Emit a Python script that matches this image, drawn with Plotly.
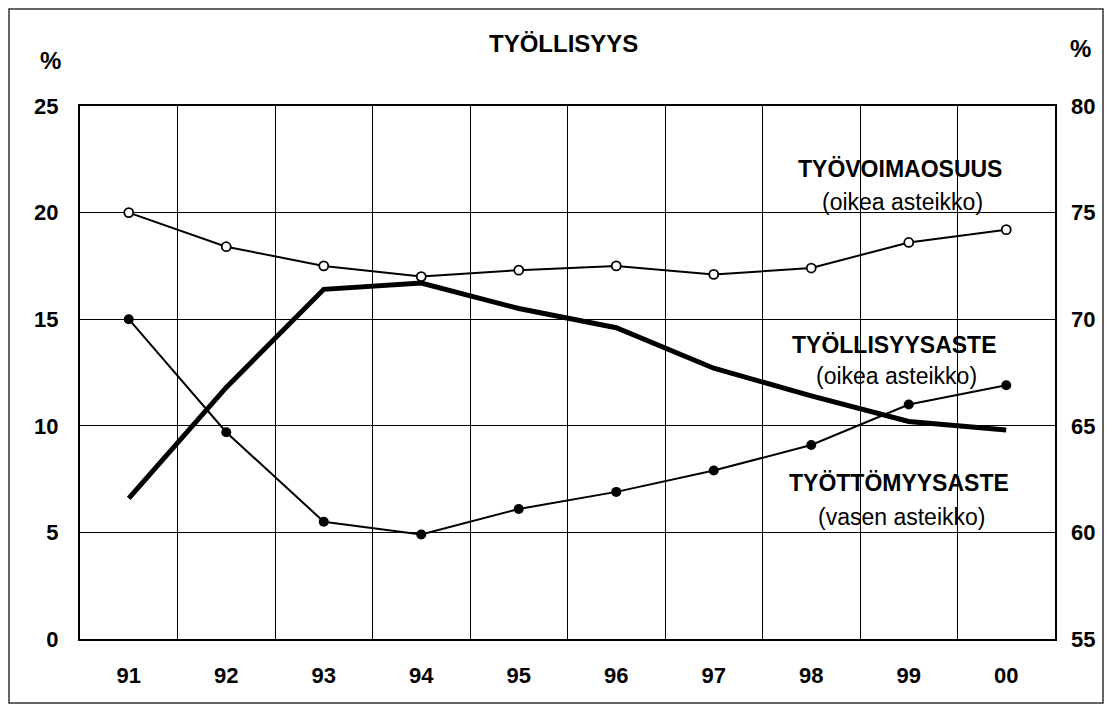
import plotly.graph_objects as go

years = ["91", "92", "93", "94", "95", "96", "97", "98", "99", "00"]
tyottomyysaste = [6.6, 11.8, 16.4, 16.7, 15.5, 14.6, 12.7, 11.4, 10.2, 9.8]   # left scale
tyollisyysaste = [70.0, 64.7, 60.5, 59.9, 61.1, 61.9, 62.9, 64.1, 66.0, 66.9]  # right scale
tyovoimaosuus = [75.0, 73.4, 72.5, 72.0, 72.3, 72.5, 72.1, 72.4, 73.6, 74.2]   # right scale
left_ticks = [0, 5, 10, 15, 20, 25]
right_ticks = [55, 60, 65, 70, 75, 80]

FONT = "Liberation Sans, Arial, sans-serif"

fig = go.Figure()
fig.add_trace(go.Scatter(x=years, y=tyovoimaosuus, yaxis="y2", mode="lines+markers",
                         line=dict(color="black", width=2),
                         marker=dict(symbol="circle", size=9, color="white",
                                     line=dict(color="black", width=1.8)),
                         showlegend=False, hoverinfo="skip"))
fig.add_trace(go.Scatter(x=years, y=tyottomyysaste, yaxis="y", mode="lines",
                         line=dict(color="black", width=5),
                         showlegend=False, hoverinfo="skip"))
fig.add_trace(go.Scatter(x=years, y=tyollisyysaste, yaxis="y2", mode="lines+markers",
                         line=dict(color="black", width=2),
                         marker=dict(symbol="circle", size=10, color="black"),
                         showlegend=False, hoverinfo="skip"))

W, H = 1096, 696
L, R, T, B = 72, 49, 98, 65
pw, ph = W - L - R, H - T - B

def px(x):
    return (x - L) / pw

def py(y):
    return (H - B - y) / ph

fig.update_layout(
    width=W, height=H,
    margin=dict(l=L, r=R, t=T, b=B, autoexpand=False),
    paper_bgcolor="white", plot_bgcolor="white",
    font=dict(family=FONT, color="black"),
    xaxis=dict(type="category", tickson="boundaries", showgrid=True, gridcolor="black",
               gridwidth=1, ticks="", showline=True, linecolor="black", linewidth=2,
               mirror=True, tickfont=dict(size=22, family=FONT, weight="bold"),
               ticklabelstandoff=16, range=[-0.5, 9.5]),
    yaxis=dict(range=[0, 25], tickvals=left_ticks, showgrid=True, gridcolor="black",
               gridwidth=1, zeroline=False, ticks="", showline=True, linecolor="black",
               linewidth=2, mirror=True, tickfont=dict(size=22, family=FONT, weight="bold"),
               ticklabelstandoff=15),
    yaxis2=dict(range=[55, 80], tickvals=right_ticks, overlaying="y", side="right",
                showgrid=False, zeroline=False, ticks="", showline=False,
                tickfont=dict(size=22, family=FONT, weight="bold"), ticklabelstandoff=15),
)

def ann(text, x, y, size, bold=False):
    fig.add_annotation(text=text, x=px(x), y=py(y), xref="paper", yref="paper",
                       xanchor="center", yanchor="middle", showarrow=False,
                       font=dict(size=size, family=FONT, color="black",
                                 weight="bold" if bold else "normal"))

ann("TYÖLLISYYS", 555, 35, 24, True)
ann("%", 42, 52, 24, True)
ann("%", 1072, 40, 24, True)
ann("TYÖVOIMAOSUUS", 892, 161, 23, True)
ann("(oikea asteikko)", 894, 194, 23)
ann("TYÖLLISYYSASTE", 886, 337, 23, True)
ann("(oikea asteikko)", 888, 368, 23)
ann("TYÖTTÖMYYSASTE", 891, 475, 23, True)
ann("(vasen asteikko)", 893, 509, 23)

fig.add_shape(type="rect", xref="paper", yref="paper",
              x0=px(1), x1=px(W - 1), y0=py(H - 1), y1=py(1),
              line=dict(color="#333333", width=1.5), layer="below")

fig.write_html("out.html")
